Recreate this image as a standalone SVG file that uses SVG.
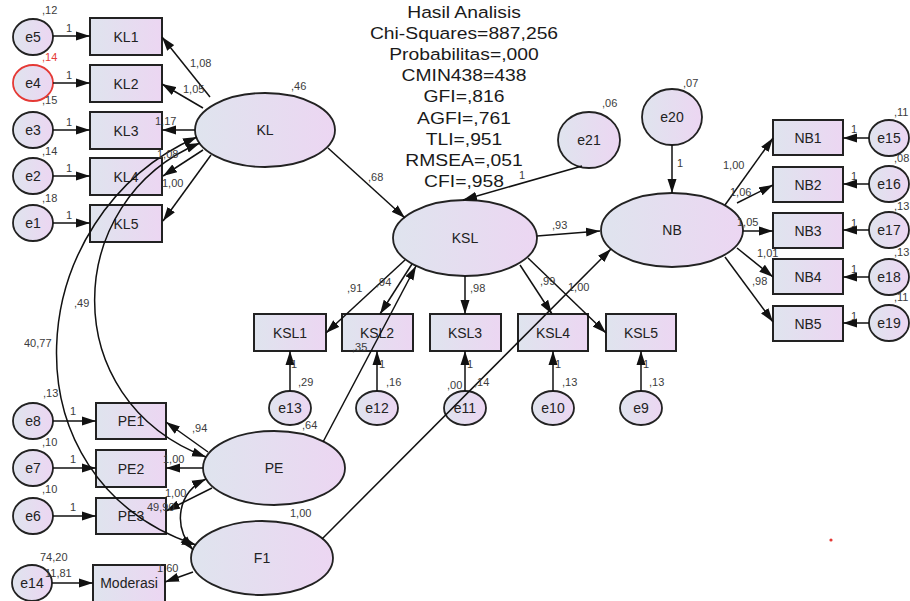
<svg xmlns="http://www.w3.org/2000/svg" width="910" height="601" viewBox="0 0 910 601">
<defs>
<linearGradient id="g" x1="0" y1="0" x2="1" y2="0">
<stop offset="0" stop-color="#dfe4ee"/>
<stop offset="1" stop-color="#ecd6f2"/>
</linearGradient>
<marker id="ah" markerUnits="userSpaceOnUse" markerWidth="15" markerHeight="10" refX="14" refY="5" orient="auto-start-reverse" viewBox="0 0 15 10">
<path d="M0,0.5 L14,5 L0,9.5 z" fill="#111"/>
</marker>
<style>
.bx{fill:url(#g);stroke:#222;stroke-width:2}
.el{fill:url(#g);stroke:#222;stroke-width:1.8}
.c{fill:none;stroke:#111;stroke-width:1.5;marker-end:url(#ah)}
.d{fill:none;stroke:#111;stroke-width:1.5;marker-end:url(#ah);marker-start:url(#ah)}
.nl{font-family:"Liberation Sans",Arial,sans-serif;font-size:14px;fill:#222;text-anchor:middle}
.sl{font-family:"Liberation Sans",Arial,sans-serif;font-size:11px;fill:#3a3a3a}
.tt{font-family:"Liberation Sans",Arial,sans-serif;font-size:16.5px;fill:#1a1a1a;text-anchor:middle}
</style>
</defs>
<rect width="910" height="601" fill="#fff"/>

<g id="title" transform="translate(464,0) scale(1.17,1)">
<text class="tt" x="0" y="18">Hasil Analisis</text>
<text class="tt" x="0" y="39">Chi-Squares=887,256</text>
<text class="tt" x="0" y="60">Probabilitas=,000</text>
<text class="tt" x="0" y="81.5">CMIN438=438</text>
<text class="tt" x="0" y="102.5">GFI=,816</text>
<text class="tt" x="0" y="124">AGFI=,761</text>
<text class="tt" x="0" y="145">TLI=,951</text>
<text class="tt" x="0" y="166">RMSEA=,051</text>
<text class="tt" x="0" y="187">CFI=,958</text>
</g>

<g id="KL1"><rect class="bx" x="90" y="18" width="72" height="37"/><text class="nl" x="126" y="41.5">KL1</text></g>
<g id="KL2"><rect class="bx" x="90" y="65" width="72" height="37"/><text class="nl" x="126" y="88.5">KL2</text></g>
<g id="KL3"><rect class="bx" x="90" y="112" width="72" height="37"/><text class="nl" x="126" y="135.5">KL3</text></g>
<g id="KL4"><rect class="bx" x="90" y="158" width="72" height="37"/><text class="nl" x="126" y="181.5">KL4</text></g>
<g id="KL5"><rect class="bx" x="90" y="205" width="72" height="37"/><text class="nl" x="126" y="228.5">KL5</text></g>

<g id="e5"><ellipse class="el" cx="33" cy="37" rx="20" ry="18"/><text class="nl" x="33" y="42">e5</text></g>
<g id="e4"><ellipse cx="33" cy="83" rx="20" ry="18" fill="url(#g)" stroke="#e53935" stroke-width="1.8"/><text class="nl" x="33" y="88">e4</text></g>
<g id="e3"><ellipse class="el" cx="33" cy="130" rx="20" ry="18"/><text class="nl" x="33" y="135">e3</text></g>
<g id="e2"><ellipse class="el" cx="33" cy="176" rx="20" ry="18"/><text class="nl" x="33" y="181">e2</text></g>
<g id="e1"><ellipse class="el" cx="33" cy="223" rx="20" ry="18"/><text class="nl" x="33" y="228">e1</text></g>

<g id="KL"><ellipse class="el" cx="265" cy="130" rx="70" ry="37"/><text class="nl" x="265" y="135">KL</text></g>
<g id="KSL"><ellipse class="el" cx="465" cy="238" rx="72" ry="38"/><text class="nl" x="465" y="243">KSL</text></g>
<g id="NB"><ellipse class="el" cx="672" cy="230" rx="71" ry="37"/><text class="nl" x="672" y="235">NB</text></g>
<g id="PE"><ellipse class="el" cx="274" cy="468" rx="71" ry="37"/><text class="nl" x="274" y="473">PE</text></g>
<g id="F1"><ellipse class="el" cx="262" cy="558" rx="71" ry="37"/><text class="nl" x="262" y="563">F1</text></g>

<g id="e21"><ellipse class="el" cx="589" cy="140" rx="31" ry="28"/><text class="nl" x="589" y="145">e21</text></g>
<g id="e20"><ellipse class="el" cx="672" cy="117" rx="30" ry="28"/><text class="nl" x="672" y="122">e20</text></g>

<g id="NB1"><rect class="bx" x="773" y="120" width="70" height="35"/><text class="nl" x="808" y="142.5">NB1</text></g>
<g id="NB2"><rect class="bx" x="773" y="167" width="70" height="35"/><text class="nl" x="808" y="189.5">NB2</text></g>
<g id="NB3"><rect class="bx" x="773" y="213" width="70" height="35"/><text class="nl" x="808" y="235.5">NB3</text></g>
<g id="NB4"><rect class="bx" x="773" y="259" width="70" height="35"/><text class="nl" x="808" y="281.5">NB4</text></g>
<g id="NB5"><rect class="bx" x="773" y="306" width="70" height="35"/><text class="nl" x="808" y="328.5">NB5</text></g>

<g id="e15"><ellipse class="el" cx="889" cy="138" rx="20" ry="18"/><text class="nl" x="889" y="143">e15</text></g>
<g id="e16"><ellipse class="el" cx="889" cy="184" rx="20" ry="18"/><text class="nl" x="889" y="189">e16</text></g>
<g id="e17"><ellipse class="el" cx="889" cy="230" rx="20" ry="18"/><text class="nl" x="889" y="235">e17</text></g>
<g id="e18"><ellipse class="el" cx="889" cy="277" rx="20" ry="18"/><text class="nl" x="889" y="282">e18</text></g>
<g id="e19"><ellipse class="el" cx="889" cy="323" rx="20" ry="18"/><text class="nl" x="889" y="328">e19</text></g>

<g id="KSL1"><rect class="bx" x="254" y="314" width="72" height="37"/><text class="nl" x="290" y="337.5">KSL1</text></g>
<g id="KSL2"><rect class="bx" x="342" y="314" width="71" height="37"/><text class="nl" x="377" y="337.5">KSL2</text></g>
<g id="KSL3"><rect class="bx" x="430" y="314" width="71" height="37"/><text class="nl" x="465" y="337.5">KSL3</text></g>
<g id="KSL4"><rect class="bx" x="518" y="314" width="70" height="37"/><text class="nl" x="553" y="337.5">KSL4</text></g>
<g id="KSL5"><rect class="bx" x="606" y="314" width="70" height="37"/><text class="nl" x="641" y="337.5">KSL5</text></g>

<g id="e13"><ellipse class="el" cx="290" cy="408" rx="21" ry="17"/><text class="nl" x="290" y="413">e13</text></g>
<g id="e12"><ellipse class="el" cx="377" cy="408" rx="21" ry="17"/><text class="nl" x="377" y="413">e12</text></g>
<g id="e11"><ellipse class="el" cx="465" cy="408" rx="21" ry="17"/><text class="nl" x="465" y="413">e11</text></g>
<g id="e10"><ellipse class="el" cx="553" cy="408" rx="21" ry="17"/><text class="nl" x="553" y="413">e10</text></g>
<g id="e9"><ellipse class="el" cx="641" cy="408" rx="21" ry="17"/><text class="nl" x="641" y="413">e9</text></g>

<g id="PE1"><rect class="bx" x="96" y="403" width="70" height="36"/><text class="nl" x="131" y="426">PE1</text></g>
<g id="PE2"><rect class="bx" x="96" y="450" width="70" height="37"/><text class="nl" x="131" y="473.5">PE2</text></g>
<g id="PE3"><rect class="bx" x="96" y="498" width="70" height="36"/><text class="nl" x="131" y="521">PE3</text></g>
<g id="Moderasi"><rect class="bx" x="93" y="565" width="72" height="37"/><text class="nl" x="129" y="588">Moderasi</text></g>

<g id="e8"><ellipse class="el" cx="33" cy="421" rx="20" ry="18"/><text class="nl" x="33" y="426">e8</text></g>
<g id="e7"><ellipse class="el" cx="33" cy="468" rx="20" ry="18"/><text class="nl" x="33" y="473">e7</text></g>
<g id="e6"><ellipse class="el" cx="33" cy="516" rx="20" ry="18"/><text class="nl" x="33" y="521">e6</text></g>
<g id="e14"><ellipse class="el" cx="32" cy="583" rx="20" ry="18"/><text class="nl" x="32" y="588">e14</text></g>

<g id="connectors">
<line class="c" x1="53" y1="36" x2="90" y2="36"/>
<line class="c" x1="53" y1="83" x2="90" y2="83"/>
<line class="c" x1="53" y1="130" x2="90" y2="130"/>
<line class="c" x1="53" y1="176" x2="90" y2="176"/>
<line class="c" x1="53" y1="223" x2="90" y2="223"/>
<line class="c" x1="210" y1="97" x2="162" y2="37"/>
<line class="c" x1="203" y1="108" x2="162" y2="84"/>
<line class="c" x1="195" y1="130" x2="162" y2="130"/>
<line class="c" x1="203" y1="150" x2="163" y2="176"/>
<line class="c" x1="211" y1="155" x2="163" y2="221"/>
<line class="c" x1="328" y1="148" x2="405" y2="218"/>
<line class="c" x1="582" y1="166" x2="463" y2="200"/>
<line class="c" x1="537" y1="236" x2="600" y2="231"/>
<line class="c" x1="672" y1="145" x2="672" y2="193"/>
<line class="c" x1="725" y1="205" x2="773" y2="138"/>
<line class="c" x1="737" y1="203" x2="773" y2="185"/>
<line class="c" x1="743" y1="231" x2="773" y2="231"/>
<line class="c" x1="737" y1="248" x2="773" y2="277"/>
<line class="c" x1="725" y1="257" x2="773" y2="322"/>
<line class="c" x1="869" y1="138" x2="843" y2="138"/>
<line class="c" x1="869" y1="184" x2="843" y2="184"/>
<line class="c" x1="869" y1="230" x2="843" y2="230"/>
<line class="c" x1="869" y1="277" x2="843" y2="277"/>
<line class="c" x1="869" y1="323" x2="843" y2="323"/>
<line class="c" x1="405" y1="260" x2="326" y2="333"/>
<line class="c" x1="412" y1="264" x2="380" y2="314"/>
<line class="c" x1="323" y1="442" x2="416" y2="266"/>
<line class="c" x1="465" y1="276" x2="465" y2="314"/>
<line class="c" x1="520" y1="265" x2="552" y2="314"/>
<line class="c" x1="528" y1="258" x2="606" y2="333"/>
<line class="c" x1="322" y1="539" x2="611" y2="249"/>
<line class="c" x1="290" y1="391" x2="290" y2="351"/>
<line class="c" x1="377" y1="391" x2="377" y2="351"/>
<line class="c" x1="465" y1="391" x2="465" y2="351"/>
<line class="c" x1="553" y1="391" x2="553" y2="351"/>
<line class="c" x1="641" y1="391" x2="641" y2="351"/>
<line class="c" x1="53" y1="421" x2="96" y2="421"/>
<line class="c" x1="53" y1="468" x2="96" y2="468"/>
<line class="c" x1="53" y1="516" x2="96" y2="516"/>
<line class="c" x1="208" y1="452" x2="166" y2="422"/>
<line class="c" x1="203" y1="468" x2="166" y2="468"/>
<line class="c" x1="212" y1="488" x2="166" y2="511"/>
<line class="c" x1="193" y1="572" x2="165" y2="582"/>
<line class="c" x1="52" y1="583" x2="93" y2="583"/>
<path class="d" d="M197,137 C20,215 0,480 196,545"/>
<path class="d" d="M200,143 C62,200 55,400 206,457"/>
<path class="d" d="M206,479 C178,492 172,525 193,550"/>
</g>

<g id="labels" opacity="0.99">
<text class="sl" x="42" y="14">,12</text>
<text class="sl" x="42" y="61" style="fill:#e53935">,14</text>
<text class="sl" x="42" y="104">,15</text>
<text class="sl" x="42" y="155">,14</text>
<text class="sl" x="42" y="202">,18</text>
<text class="sl" x="66" y="32">1</text>
<text class="sl" x="66" y="79">1</text>
<text class="sl" x="66" y="126">1</text>
<text class="sl" x="66" y="172">1</text>
<text class="sl" x="66" y="219">1</text>
<text class="sl" x="190" y="67">1,08</text>
<text class="sl" x="183" y="93">1,05</text>
<text class="sl" x="155" y="125">1,17</text>
<text class="sl" x="157" y="158">1,08</text>
<text class="sl" x="162" y="187">1,00</text>
<text class="sl" x="291" y="90">,46</text>
<text class="sl" x="368" y="181">,68</text>
<text class="sl" x="519" y="179">1</text>
<text class="sl" x="602" y="107">,06</text>
<text class="sl" x="683" y="87">,07</text>
<text class="sl" x="677" y="167">1</text>
<text class="sl" x="552" y="229">,93</text>
<text class="sl" x="723" y="169">1,00</text>
<text class="sl" x="730" y="196">1,06</text>
<text class="sl" x="737" y="226">1,05</text>
<text class="sl" x="757" y="257">1,01</text>
<text class="sl" x="752" y="285">,98</text>
<text class="sl" x="851" y="133">1</text>
<text class="sl" x="851" y="180">1</text>
<text class="sl" x="851" y="227">1</text>
<text class="sl" x="851" y="273">1</text>
<text class="sl" x="851" y="320">1</text>
<text class="sl" x="894" y="116">,11</text>
<text class="sl" x="894" y="162">,08</text>
<text class="sl" x="894" y="210">,13</text>
<text class="sl" x="894" y="256">,13</text>
<text class="sl" x="894" y="301">,11</text>
<text class="sl" x="347" y="292">,91</text>
<text class="sl" x="376" y="286">,94</text>
<text class="sl" x="470" y="292">,98</text>
<text class="sl" x="540" y="285">,99</text>
<text class="sl" x="568" y="291">1,00</text>
<text class="sl" x="291" y="368">1</text>
<text class="sl" x="379" y="368">1</text>
<text class="sl" x="467" y="368">1</text>
<text class="sl" x="555" y="368">1</text>
<text class="sl" x="643" y="368">1</text>
<text class="sl" x="298" y="386">,29</text>
<text class="sl" x="386" y="386">,16</text>
<text class="sl" x="447" y="389">,00</text>
<text class="sl" x="474" y="386">,14</text>
<text class="sl" x="562" y="386">,13</text>
<text class="sl" x="649" y="386">,13</text>
<text class="sl" x="352" y="351">,35</text>
<text class="sl" x="302" y="429">,64</text>
<text class="sl" x="74" y="307">,49</text>
<text class="sl" x="24" y="347">40,77</text>
<text class="sl" x="43" y="397">,13</text>
<text class="sl" x="42" y="446">,10</text>
<text class="sl" x="42" y="493">,10</text>
<text class="sl" x="70" y="415">1</text>
<text class="sl" x="70" y="463">1</text>
<text class="sl" x="70" y="511">1</text>
<text class="sl" x="192" y="432">,94</text>
<text class="sl" x="163" y="463">1,00</text>
<text class="sl" x="165" y="497">1,00</text>
<text class="sl" x="147" y="511">49,90</text>
<text class="sl" x="290" y="517">1,00</text>
<text class="sl" x="40" y="561">74,20</text>
<text class="sl" x="45" y="577">11,81</text>
<text class="sl" x="157" y="572">1,60</text>
</g>
<circle cx="831" cy="540" r="1.6" fill="#e53935"/>
</svg>
